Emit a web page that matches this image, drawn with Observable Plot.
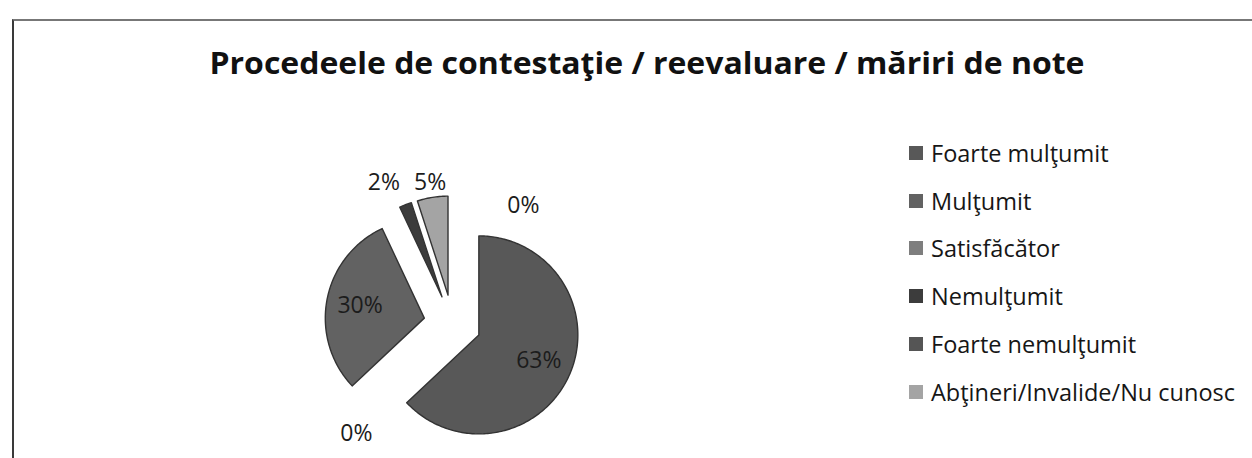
<!DOCTYPE html>
<html>
<head>
<meta charset="utf-8">
<script src="https://cdn.jsdelivr.net/npm/d3@7"></script>
<script src="https://cdn.jsdelivr.net/npm/@observablehq/plot@0.6"></script>
<style>
  html, body { margin: 0; padding: 0; background: #fff; }
  #wrap { position: relative; width: 1252px; height: 458px; overflow: hidden; background: #fff; font-family: "Open Sans", sans-serif; }
  #frame { position: absolute; left: 12px; top: 19px; width: 1250px; height: 460px; border-left: 2px solid #3a3a3a; border-top: 2px solid #777; }
  #title { position: absolute; top: 41px; left: 647px; white-space: nowrap; font-weight: 700; font-size: 31px; color: #111; transform-origin: 0 0; }
  #pie { position: absolute; left: 232px; top: 143px; }
  #legend { position: absolute; left: 909px; top: 129px; }
  .row { display: flex; align-items: center; height: 47.8px; font-size: 23.5px; color: #161616; }
  .sw { width: 14px; height: 14px; margin-right: 8px; flex: none; }
</style>
</head>
<body>
<div id="wrap">
  <div id="frame"></div>
  <div id="title">Procedeele de contestaţie / reevaluare / măriri de note</div>
  <div id="pie"></div>
  <div id="legend"></div>
</div>
<script>
// ---- data ----
const categories = ["Foarte mulţumit", "Mulţumit", "Satisfăcător", "Nemulţumit", "Foarte nemulţumit", "Abţineri/Invalide/Nu cunosc"];
const shares = [63, 30, 0, 2, 0, 5];
const shareLabels = ["63%", "30%", "0%", "2%", "0%", "5%"];
const grays = ["#585858", "#626262", "#7e7e7e", "#3c3c3c", "#555555", "#a4a4a4"];

// ---- title sizing (fit to the reference width) ----
const title = document.getElementById("title");
const tw = title.getBoundingClientRect().width;
const sx = 875 / tw;
title.style.transform = `translateX(${-875 / 2}px) scaleX(${sx})`;

// ---- pie geometry (angles clockwise from 12 o'clock, unit radius) ----
const E = 0.29;          // explosion distance (in radii)
const W = 440, H = 360, Rpx = 99;
const FS = 23;
const total = d3.sum(shares);
let cum = 0;
const slices = categories.map((c, i) => {
  const a0 = cum / total * 2 * Math.PI;
  cum += shares[i];
  const a1 = cum / total * 2 * Math.PI;
  return {c, a0, a1, mid: (a0 + a1) / 2, v: shares[i], label: shareLabels[i]};
});

const pts = [];
for (const s of slices) {
  if (s.v <= 0) continue;
  const ox = E * Math.sin(s.mid), oy = E * Math.cos(s.mid);
  pts.push({c: s.c, x: ox, y: oy});
  const n = Math.max(2, Math.ceil((s.a1 - s.a0) / (Math.PI / 180)));
  for (let k = 0; k <= n; k++) {
    const a = s.a0 + (s.a1 - s.a0) * k / n;
    pts.push({c: s.c, x: ox + Math.sin(a), y: oy + Math.cos(a)});
  }
  pts.push({c: s.c, x: ox, y: oy});
}

// label placement: large slices inside, thin slices outside; zero slices as the reference shows them
const zeroLabelPlacement = [[221, 1.48], [31, 1.39]];
let zi = 0;
const labelData = slices.map(s => {
  let ang, dist, outside = false;
  if (s.v === 0) {
    const p = zeroLabelPlacement[zi++ % zeroLabelPlacement.length];
    ang = p[0] * Math.PI / 180; dist = p[1];
  } else if (s.v >= 10) {
    ang = s.mid; dist = E + 0.66;
  } else {
    ang = s.mid; dist = E + 1.15; outside = true;
  }
  return {label: s.label, x: dist * Math.sin(ang), y: dist * Math.cos(ang), outside};
});
// simple collision avoidance among outside labels (push leftwards, align rows)
const outs = labelData.filter(d => d.outside).sort((a, b) => b.x - a.x);
for (let i = 1; i < outs.length; i++) {
  const prev = outs[i - 1], cur = outs[i];
  const minGap = (prev.label.length + cur.label.length) / 2 * 0.62 * FS / Rpx + 0.18;
  if (prev.x - cur.x < minGap) {
    cur.x = prev.x - minGap;
    cur.y = prev.y;
  }
}

const chart = Plot.plot({
  width: W,
  height: H,
  margin: 0,
  x: {domain: [-W / 2 / Rpx, W / 2 / Rpx], axis: null},
  y: {domain: [-H / 2 / Rpx, H / 2 / Rpx], axis: null},
  color: {domain: categories, range: grays},
  style: {background: "transparent", fontFamily: "Open Sans, sans-serif"},
  marks: [
    Plot.line(pts, {x: "x", y: "y", z: "c", fill: "c", stroke: "#333", strokeWidth: 1.4, strokeLinejoin: "round", curve: "linear"}),
    Plot.text(labelData, {x: "x", y: "y", text: "label", fontSize: FS, fill: "#1c1c1c", fontFamily: "Open Sans, sans-serif"})
  ]
});
document.getElementById("pie").appendChild(chart);

// ---- legend ----
const legend = d3.select("#legend");
categories.forEach((c, i) => {
  const row = legend.append("div").attr("class", "row");
  row.append("div").attr("class", "sw").style("background", grays[i]);
  row.append("span").text(c);
});
</script>
</body>
</html>
